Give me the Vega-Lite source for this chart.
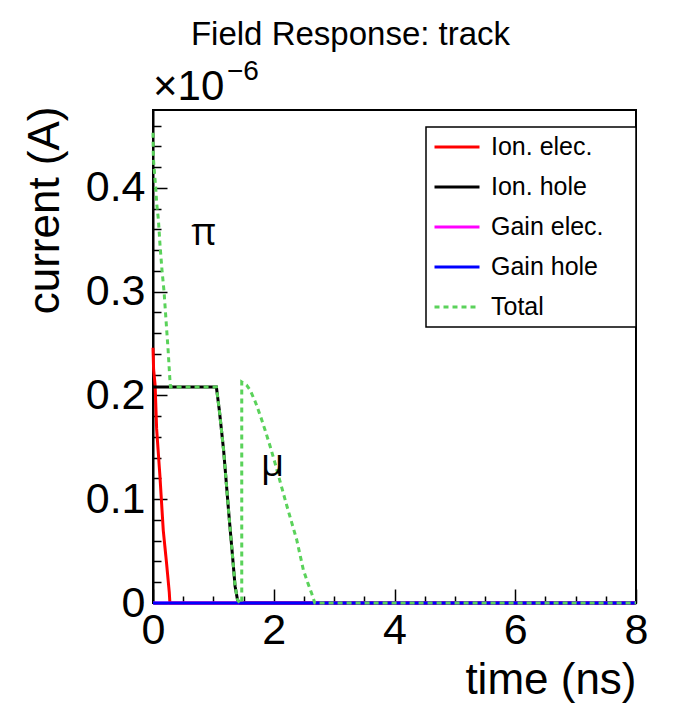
{
  "$schema": "https://vega.github.io/schema/vega-lite/v6.json",
  "width": 483,
  "height": 493,
  "autosize": {"type": "none"},
  "padding": {"left": 153, "top": 110, "right": 38, "bottom": 102},
  "background": "white",
  "title": {
    "text": "Field Response: track",
    "font": "Liberation Sans",
    "fontSize": 33,
    "fontWeight": "normal",
    "color": "black",
    "anchor": "middle",
    "dx": -44,
    "dy": 35,
    "offset": 15,
    "baseline": "alphabetic"
  },
  "config": {
    "view": {"stroke": "black", "strokeWidth": 2},
    "font": "Liberation Sans",
    "legend": {
      "orient": "none",
      "legendX": 273,
      "legendY": 17,
      "direction": "vertical",
      "strokeColor": "black",
      "strokeWidth": 1.5,
      "fillColor": "white",
      "padding": 7,
      "symbolType": "stroke",
      "symbolSize": 2025,
      "symbolStrokeWidth": 3,
      "labelFont": "Liberation Sans",
      "labelFontSize": 25,
      "labelColor": "black",
      "labelOffset": 10,
      "labelLimit": 300,
      "clipHeight": 26,
      "rowPadding": 14
    }
  },
  "datasets": {
    "elec": [
      {"series": "Ion. elec.", "t": 0, "i": 0.246},
      {"series": "Ion. elec.", "t": 0.01, "i": 0.225},
      {"series": "Ion. elec.", "t": 0.035, "i": 0.21},
      {"series": "Ion. elec.", "t": 0.06, "i": 0.168},
      {"series": "Ion. elec.", "t": 0.115, "i": 0.122},
      {"series": "Ion. elec.", "t": 0.17, "i": 0.07},
      {"series": "Ion. elec.", "t": 0.225, "i": 0.038},
      {"series": "Ion. elec.", "t": 0.27, "i": 0.01},
      {"series": "Ion. elec.", "t": 0.28, "i": 0},
      {"series": "Ion. elec.", "t": 8, "i": 0}
    ],
    "hole": [
      {"series": "Ion. hole", "t": 0, "i": 0.208},
      {"series": "Ion. hole", "t": 1.05, "i": 0.208},
      {"series": "Ion. hole", "t": 1.1, "i": 0.185},
      {"series": "Ion. hole", "t": 1.17, "i": 0.147},
      {"series": "Ion. hole", "t": 1.25, "i": 0.09},
      {"series": "Ion. hole", "t": 1.31, "i": 0.05},
      {"series": "Ion. hole", "t": 1.36, "i": 0.016},
      {"series": "Ion. hole", "t": 1.4, "i": 0.003},
      {"series": "Ion. hole", "t": 1.44, "i": 0},
      {"series": "Ion. hole", "t": 8, "i": 0}
    ],
    "gainelec": [
      {"series": "Gain elec.", "t": 0, "i": 0},
      {"series": "Gain elec.", "t": 8, "i": 0}
    ],
    "gainhole": [
      {"series": "Gain hole", "t": 0, "i": 0},
      {"series": "Gain hole", "t": 8, "i": 0}
    ],
    "total": [
      {"series": "Total", "t": 0, "i": 0.453},
      {"series": "Total", "t": 0.005, "i": 0.43},
      {"series": "Total", "t": 0.017, "i": 0.42},
      {"series": "Total", "t": 0.045, "i": 0.4},
      {"series": "Total", "t": 0.061, "i": 0.385},
      {"series": "Total", "t": 0.09, "i": 0.369},
      {"series": "Total", "t": 0.116, "i": 0.345},
      {"series": "Total", "t": 0.15, "i": 0.32},
      {"series": "Total", "t": 0.183, "i": 0.3},
      {"series": "Total", "t": 0.227, "i": 0.263},
      {"series": "Total", "t": 0.25, "i": 0.244},
      {"series": "Total", "t": 0.28, "i": 0.215},
      {"series": "Total", "t": 0.29, "i": 0.208},
      {"series": "Total", "t": 1.05, "i": 0.208},
      {"series": "Total", "t": 1.1, "i": 0.185},
      {"series": "Total", "t": 1.17, "i": 0.147},
      {"series": "Total", "t": 1.25, "i": 0.09},
      {"series": "Total", "t": 1.31, "i": 0.05},
      {"series": "Total", "t": 1.36, "i": 0.016},
      {"series": "Total", "t": 1.4, "i": 0.003},
      {"series": "Total", "t": 1.44, "i": 0},
      {"series": "Total", "t": 1.47, "i": 0},
      {"series": "Total", "t": 1.47, "i": 0.213},
      {"series": "Total", "t": 1.55, "i": 0.21},
      {"series": "Total", "t": 1.61, "i": 0.205},
      {"series": "Total", "t": 1.7, "i": 0.193},
      {"series": "Total", "t": 1.78, "i": 0.18},
      {"series": "Total", "t": 1.86, "i": 0.166},
      {"series": "Total", "t": 1.94, "i": 0.151},
      {"series": "Total", "t": 2.02, "i": 0.135},
      {"series": "Total", "t": 2.11, "i": 0.116},
      {"series": "Total", "t": 2.22, "i": 0.093},
      {"series": "Total", "t": 2.3, "i": 0.077},
      {"series": "Total", "t": 2.38, "i": 0.061},
      {"series": "Total", "t": 2.49, "i": 0.032},
      {"series": "Total", "t": 2.56, "i": 0.02},
      {"series": "Total", "t": 2.63, "i": 0.009},
      {"series": "Total", "t": 2.68, "i": 0},
      {"series": "Total", "t": 8, "i": 0}
    ],
    "notes": [
      {"t": 0.838, "i": 0.345, "label": "π"},
      {"t": 1.98, "i": 0.1224, "label": "μ"}
    ],
    "exponent": [
      {"t": 0, "i": 0.4848, "base": "×10", "power": "−6"}
    ]
  },
  "resolve": {"axis": {"x": "independent", "y": "independent"}},
  "layer": [
    {
      "data": {"name": "elec"},
      "mark": {"type": "line", "strokeWidth": 3},
      "encoding": {
        "x": {
          "field": "t", "type": "quantitative",
          "scale": {"domain": [0, 8], "nice": false, "zero": false},
          "axis": {
            "orient": "bottom",
            "values": [0, 2, 4, 6, 8],
            "format": "d",
            "grid": false,
            "domain": true, "domainColor": "black", "domainWidth": 2,
            "ticks": true, "tickSize": -14, "tickColor": "black", "tickWidth": 1.5,
            "labelFont": "Liberation Sans", "labelFontSize": 43, "labelColor": "black",
            "labelPadding": 20, "labelFlush": false, "labelOverlap": false, "labelBound": false,
            "title": "time (ns)", "titleFont": "Liberation Sans", "titleFontSize": 44,
            "titleFontWeight": "normal", "titleColor": "black",
            "titleX": 483, "titleY": 90, "titleAlign": "right", "titleBaseline": "alphabetic"
          }
        },
        "y": {
          "field": "i", "type": "quantitative",
          "scale": {"domain": [0, 0.475], "nice": false, "zero": false},
          "axis": {
            "orient": "left",
            "values": [0, 0.1, 0.2, 0.3, 0.4],
            "format": ".1~f",
            "grid": false,
            "domain": true, "domainColor": "black", "domainWidth": 2,
            "ticks": true, "tickSize": -14, "tickColor": "black", "tickWidth": 1.5,
            "labelFont": "Liberation Sans", "labelFontSize": 43, "labelColor": "black",
            "labelPadding": 22, "labelFlush": false, "labelOverlap": false, "labelBound": false,
            "title": "current (A)", "titleFont": "Liberation Sans", "titleFontSize": 44,
            "titleFontWeight": "normal", "titleColor": "black",
            "titleX": -95, "titleY": -4, "titleAngle": -90, "titleAlign": "right", "titleBaseline": "alphabetic"
          }
        },
        "color": {
          "field": "series", "type": "nominal",
          "scale": {"domain": ["Ion. elec.", "Ion. hole", "Gain elec.", "Gain hole", "Total"], "range": ["#ff0000", "#000000", "#ff00ff", "#0000ff", "#5ad25a"]},
          "legend": {"title": null, "labelExpr": "datum.label + '\u2003\u200b'"}
        },
        "strokeDash": {
          "field": "series", "type": "nominal",
          "scale": {"domain": ["Ion. elec.", "Ion. hole", "Gain elec.", "Gain hole", "Total"], "range": [[1, 0], [1, 0], [1, 0], [1, 0], [5, 4]]},
          "legend": {"title": null, "labelExpr": "datum.label + '\u2003\u200b'"}
        }
      }
    },
    {
      "data": {"name": "hole"},
      "mark": {"type": "line", "strokeWidth": 3},
      "encoding": {
        "x": {"field": "t", "type": "quantitative", "scale": {"domain": [0, 8], "nice": false, "zero": false}, "axis": null},
        "y": {"field": "i", "type": "quantitative", "scale": {"domain": [0, 0.475], "nice": false, "zero": false}, "axis": null},
        "color": {
          "field": "series", "type": "nominal",
          "scale": {"domain": ["Ion. elec.", "Ion. hole", "Gain elec.", "Gain hole", "Total"], "range": ["#ff0000", "#000000", "#ff00ff", "#0000ff", "#5ad25a"]},
          "legend": {"title": null, "labelExpr": "datum.label + '\u2003\u200b'"}
        },
        "strokeDash": {
          "field": "series", "type": "nominal",
          "scale": {"domain": ["Ion. elec.", "Ion. hole", "Gain elec.", "Gain hole", "Total"], "range": [[1, 0], [1, 0], [1, 0], [1, 0], [5, 4]]},
          "legend": {"title": null, "labelExpr": "datum.label + '\u2003\u200b'"}
        }
      }
    },
    {
      "data": {"name": "gainelec"},
      "mark": {"type": "line", "strokeWidth": 3},
      "encoding": {
        "x": {
          "field": "t", "type": "quantitative",
          "scale": {"domain": [0, 8], "nice": false, "zero": false},
          "axis": {
            "orient": "bottom",
            "values": [0.5, 1, 1.5, 2.5, 3, 3.5, 4.5, 5, 5.5, 6.5, 7, 7.5],
            "grid": false, "domain": false, "labels": false, "title": null,
            "ticks": true, "tickSize": -7, "tickColor": "black", "tickWidth": 1.5
          }
        },
        "y": {
          "field": "i", "type": "quantitative",
          "scale": {"domain": [0, 0.475], "nice": false, "zero": false},
          "axis": {
            "orient": "left",
            "values": [0.02, 0.04, 0.06, 0.08, 0.12, 0.14, 0.16, 0.18, 0.22, 0.24, 0.26, 0.28, 0.32, 0.34, 0.36, 0.38, 0.42, 0.44, 0.46],
            "grid": false, "domain": false, "labels": false, "title": null,
            "ticks": true, "tickSize": -8, "tickColor": "black", "tickWidth": 1.5
          }
        },
        "color": {
          "field": "series", "type": "nominal",
          "scale": {"domain": ["Ion. elec.", "Ion. hole", "Gain elec.", "Gain hole", "Total"], "range": ["#ff0000", "#000000", "#ff00ff", "#0000ff", "#5ad25a"]},
          "legend": {"title": null, "labelExpr": "datum.label + '\u2003\u200b'"}
        },
        "strokeDash": {
          "field": "series", "type": "nominal",
          "scale": {"domain": ["Ion. elec.", "Ion. hole", "Gain elec.", "Gain hole", "Total"], "range": [[1, 0], [1, 0], [1, 0], [1, 0], [5, 4]]},
          "legend": {"title": null, "labelExpr": "datum.label + '\u2003\u200b'"}
        }
      }
    },
    {
      "data": {"name": "gainhole"},
      "mark": {"type": "line", "strokeWidth": 3},
      "encoding": {
        "x": {"field": "t", "type": "quantitative", "scale": {"domain": [0, 8], "nice": false, "zero": false}, "axis": null},
        "y": {"field": "i", "type": "quantitative", "scale": {"domain": [0, 0.475], "nice": false, "zero": false}, "axis": null},
        "color": {
          "field": "series", "type": "nominal",
          "scale": {"domain": ["Ion. elec.", "Ion. hole", "Gain elec.", "Gain hole", "Total"], "range": ["#ff0000", "#000000", "#ff00ff", "#0000ff", "#5ad25a"]},
          "legend": {"title": null, "labelExpr": "datum.label + '\u2003\u200b'"}
        },
        "strokeDash": {
          "field": "series", "type": "nominal",
          "scale": {"domain": ["Ion. elec.", "Ion. hole", "Gain elec.", "Gain hole", "Total"], "range": [[1, 0], [1, 0], [1, 0], [1, 0], [5, 4]]},
          "legend": {"title": null, "labelExpr": "datum.label + '\u2003\u200b'"}
        }
      }
    },
    {
      "data": {"name": "total"},
      "mark": {"type": "line", "strokeWidth": 3},
      "encoding": {
        "x": {"field": "t", "type": "quantitative", "scale": {"domain": [0, 8], "nice": false, "zero": false}, "axis": null},
        "y": {"field": "i", "type": "quantitative", "scale": {"domain": [0, 0.475], "nice": false, "zero": false}, "axis": null},
        "color": {
          "field": "series", "type": "nominal",
          "scale": {"domain": ["Ion. elec.", "Ion. hole", "Gain elec.", "Gain hole", "Total"], "range": ["#ff0000", "#000000", "#ff00ff", "#0000ff", "#5ad25a"]},
          "legend": {"title": null, "labelExpr": "datum.label + '\u2003\u200b'"}
        },
        "strokeDash": {
          "field": "series", "type": "nominal",
          "scale": {"domain": ["Ion. elec.", "Ion. hole", "Gain elec.", "Gain hole", "Total"], "range": [[1, 0], [1, 0], [1, 0], [1, 0], [5, 4]]},
          "legend": {"title": null, "labelExpr": "datum.label + '\u2003\u200b'"}
        }
      }
    },
    {
      "data": {"name": "notes"},
      "mark": {"type": "text", "font": "Open Sans", "fontSize": 38, "color": "black", "align": "center", "baseline": "alphabetic"},
      "encoding": {
        "x": {"field": "t", "type": "quantitative", "scale": {"domain": [0, 8], "nice": false, "zero": false}, "axis": null},
        "y": {"field": "i", "type": "quantitative", "scale": {"domain": [0, 0.475], "nice": false, "zero": false}, "axis": null},
        "text": {"field": "label"}
      }
    },
    {
      "data": {"name": "exponent"},
      "mark": {"type": "text", "font": "Liberation Sans", "fontSize": 42, "color": "black", "align": "left", "baseline": "alphabetic", "clip": false},
      "encoding": {
        "x": {"field": "t", "type": "quantitative", "scale": {"domain": [0, 8], "nice": false, "zero": false}, "axis": null},
        "y": {"field": "i", "type": "quantitative", "scale": {"domain": [0, 0.475], "nice": false, "zero": false}, "axis": null},
        "text": {"field": "base"}
      }
    },
    {
      "data": {"name": "exponent"},
      "mark": {"type": "text", "font": "Liberation Sans", "fontSize": 28, "color": "black", "align": "left", "baseline": "alphabetic", "dx": 74, "dy": -20, "clip": false},
      "encoding": {
        "x": {"field": "t", "type": "quantitative", "scale": {"domain": [0, 8], "nice": false, "zero": false}, "axis": null},
        "y": {"field": "i", "type": "quantitative", "scale": {"domain": [0, 0.475], "nice": false, "zero": false}, "axis": null},
        "text": {"field": "power"}
      }
    }
  ]
}
